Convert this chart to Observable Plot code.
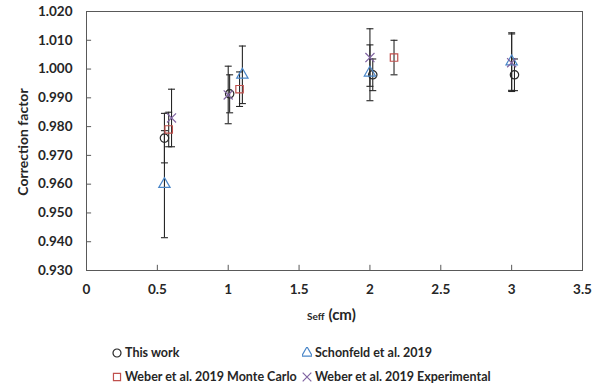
<!DOCTYPE html>
<html><head><meta charset="utf-8">
<script src="https://cdn.jsdelivr.net/npm/d3@7"></script>
<script src="https://cdn.jsdelivr.net/npm/@observablehq/plot@0.6"></script>
<style>
body{margin:0;background:#fff;font-family:Lato,"Liberation Sans",sans-serif;}
#wrap{position:relative;width:601px;height:388px;overflow:hidden;}
#ylab{position:absolute;left:22px;top:142px;transform:translate(-50%,-50%) rotate(-90deg);font-weight:bold;font-size:14px;color:#262626;white-space:nowrap;}
#xlab{position:absolute;left:307px;top:304px;font-weight:bold;color:#262626;white-space:nowrap;}
.leg{position:absolute;font-weight:bold;font-size:12.5px;color:#262626;white-space:nowrap;display:flex;align-items:center;}
.leg svg{margin-right:3px;}
</style></head>
<body><div id="wrap">
<div id="chart"></div>
<div id="ylab">Correction factor</div>
<div id="xlab"><span style="font-size:10px">Seff</span> <span style="font-size:15px">(cm)</span></div>
<div id="legend"></div>
</div>
<script>
const seriesNames = ["This work","Schonfeld et al. 2019","Weber et al. 2019 Monte Carlo","Weber et al. 2019 Experimental"];
const seriesColors = ["#262626","#4a86c8","#c0504d","#8064a2"];
const seriesSymbols = ["circle","triangle","square","times"];

const thisX = [0.55, 1.01, 2.02, 3.02];
const thisY = [0.976, 0.9914, 0.998, 0.998];
const thisErr = [0.0086, 0.0066, 0.0055, 0.0055];

const schX = [0.55, 1.10, 2.00, 3.00];
const schY = [0.960, 0.998, 0.9987, 1.0026];
const schErr = [0.0186, 0.010, 0.0097, 0.010];

const mcX = [0.58, 1.08, 2.17];
const mcY = [0.979, 0.993, 1.004];
const mcErr = [0.006, 0.006, 0.006];

const expX = [0.60, 1.00, 2.00, 3.00];
const expY = [0.983, 0.991, 1.004, 1.0022];
const expErr = [0.010, 0.010, 0.010, 0.010];

const xTicks = [0, 0.5, 1, 1.5, 2, 2.5, 3, 3.5];
const yTicks = [0.93, 0.94, 0.95, 0.96, 0.97, 0.98, 0.99, 1.00, 1.01, 1.02];

const groups = [[thisX,thisY,thisErr],[schX,schY,schErr],[mcX,mcY,mcErr],[expX,expY,expErr]];
const data = [];
groups.forEach((g,i)=>g[0].forEach((x,j)=>data.push({s:seriesNames[i],x,y:g[1][j],e:g[2][j]})));

const capSymbol = {draw(ctx,size){ctx.moveTo(-3.5,0);ctx.lineTo(3.5,0);}};
const ink = "#262626";

const chart = Plot.plot({
  width: 601, height: 330,
  marginLeft: 86, marginRight: 19, marginTop: 11, marginBottom: 60,
  style: {fontFamily: "Lato, 'Liberation Sans', sans-serif", fontWeight: "bold", fontSize: "13.5px", color: "#262626"},
  x: {domain: [0, 3.5]},
  y: {domain: [0.93, 1.02]},
  symbol: {domain: seriesNames, range: seriesSymbols},
  color: {domain: seriesNames, range: seriesColors},
  marks: [
    Plot.axisX({ticks: xTicks, tickFormat: d3.format("~g"), tickSize: 0, tickPadding: 14, label: null}),
    Plot.axisY({ticks: yTicks, tickFormat: d3.format(".3f"), tickSize: 0, tickPadding: 14, label: null}),
    Plot.ruleY(yTicks.slice(1,-1), {x1: 0, x2: 0.036, stroke: "#595959"}),
    Plot.ruleX(xTicks.slice(1,-1), {y1: 0.93, y2: 0.9318, stroke: "#595959"}),
    Plot.frame({stroke: "#595959"}),
    Plot.ruleX(data, {x: "x", y1: d=>d.y-d.e, y2: d=>d.y+d.e, stroke: ink, strokeWidth: 1.1}),
    Plot.dot(data, {x: "x", y: d=>d.y+d.e, symbol: capSymbol, stroke: ink, strokeWidth: 1.1}),
    Plot.dot(data, {x: "x", y: d=>d.y-d.e, symbol: capSymbol, stroke: ink, strokeWidth: 1.1}),
    Plot.dot(data, {x: "x", y: "y", symbol: "s", stroke: "s", fill: "none", r: 4.2, strokeWidth: 1.2})
  ]
});
document.getElementById("chart").appendChild(chart);

const legPos = [[112,353],[302,353],[112,377],[302,377]];
const leg = document.getElementById("legend");
seriesNames.forEach((n,i)=>{
  const div = document.createElement("div");
  div.className = "leg";
  div.style.left = legPos[i][0]+"px";
  div.style.top = (legPos[i][1]-8)+"px";
  const sym = d3.symbol(i===0?d3.symbolCircle:i===1?d3.symbolTriangle:i===2?d3.symbolSquare:d3.symbolTimes, Math.PI*16)();
  div.innerHTML = `<svg width="10" height="12" viewBox="-5 -6 10 12"><path d="${sym}" fill="none" stroke="${seriesColors[i]}" stroke-width="1.2"/></svg><span>${n}</span>`;
  leg.appendChild(div);
});
</script>
</body></html>
